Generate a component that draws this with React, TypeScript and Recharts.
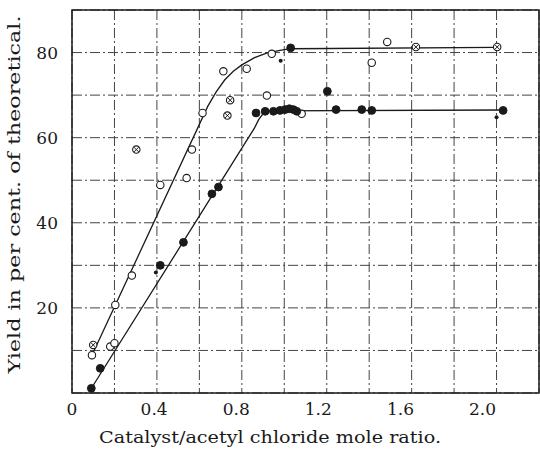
import { ComposedChart, Line, Scatter, XAxis, YAxis, CartesianGrid, ReferenceArea } from "recharts";

// open circles (upper set)
const openPts = [
  [0.094, 8.9], [0.18, 10.9], [0.2, 11.7], [0.204, 20.7], [0.282, 27.6],
  [0.416, 48.9], [0.54, 50.5], [0.565, 57.2], [0.615, 65.8], [0.713, 75.6],
  [0.823, 76.2], [0.918, 69.9], [0.941, 79.7], [1.082, 65.6], [1.412, 77.6],
  [1.485, 82.5],
];

// crossed circles
const crossPts = [
  [0.1, 11.3], [0.303, 57.2], [0.732, 65.2], [0.745, 68.8], [1.62, 81.3], [2.003, 81.3],
];

// filled circles (lower set)
const filledPts = [
  [0.091, 1.1], [0.133, 5.8], [0.416, 30.0], [0.525, 35.4], [0.659, 46.8],
  [0.69, 48.4], [0.867, 65.8], [0.91, 66.2], [0.949, 66.2], [0.98, 66.4],
  [1.004, 66.6], [1.024, 66.8], [1.043, 66.6], [1.059, 66.2], [1.03, 81.1],
  [1.203, 70.9], [1.244, 66.6], [1.365, 66.6], [1.412, 66.4], [2.031, 66.4],
];

// small dots
const dotPts = [[0.395, 28.3], [0.983, 78.1], [2.0, 64.8]];

// drawn curves
const upperCurve = [
  [0.1, 9.5], [0.64, 67.4], [0.68, 70.8], [0.72, 73.6], [0.76, 75.6], [0.8, 77.1],
  [0.86, 78.8], [0.92, 79.9], [0.98, 80.5], [1.03, 80.9], [2.0, 81.2],
];
const lowerCurve = [
  [0.09, 1.0], [0.86, 62.3], [0.88, 64.3], [0.9, 65.6], [0.93, 66.3], [2.03, 66.5],
];

const xTicks = [0, 0.2, 0.4, 0.6, 0.8, 1.0, 1.2, 1.4, 1.6, 1.8, 2.0, 2.2];
const xLabels: Record<string, string> = { "0": "0", "0.4": "0.4", "0.8": "0.8", "1.2": "1.2", "1.6": "1.6", "2": "2.0" };
const yTicks = [0, 10, 20, 30, 40, 50, 60, 70, 80, 90];
const yLabels = [20, 40, 60, 80];

const toXY = (a: number[][]) => a.map(([x, y]) => ({ x, y }));

const INK = "#1a1a1a";
const FONT = "'DejaVu Serif', serif";

const OpenDot = (p: any) => (
  <circle cx={p.cx} cy={p.cy} r={3.7} fill="#fff" stroke={INK} strokeWidth={1.1} />
);
const FilledDot = (p: any) => (
  <circle cx={p.cx} cy={p.cy} r={3.9} fill={INK} stroke={INK} strokeWidth={1} />
);
const SmallDot = (p: any) => (
  <circle cx={p.cx} cy={p.cy} r={2} fill={INK} />
);
const CrossDot = (p: any) => (
  <g>
    <circle cx={p.cx} cy={p.cy} r={3.7} fill="#fff" stroke={INK} strokeWidth={1.1} />
    <path
      d={`M${p.cx - 2.4},${p.cy - 2.4}L${p.cx + 2.4},${p.cy + 2.4}M${p.cx - 2.4},${p.cy + 2.4}L${p.cx + 2.4},${p.cy - 2.4}`}
      stroke={INK}
      strokeWidth={1}
    />
  </g>
);

// the printed tick numbers sit a little left of their grid lines
const XTick = (p: any) => {
  const v = p.payload.value;
  const txt = xLabels[String(Math.round(v * 10) / 10)];
  if (!txt) return null;
  return (
    <text x={p.x - 7 * v} y={p.y} dy={12} textAnchor="middle" fill={INK} fontSize={17} fontFamily={FONT}>
      {txt}
    </text>
  );
};

const XTitle = (p: any) => {
  const vb = p.viewBox;
  return (
    <text x={vb.x + 198} y={vb.y + vb.height - 8} textAnchor="middle" fill={INK} fontSize={17} fontFamily={FONT} textLength={342} lengthAdjust="spacingAndGlyphs">
      Catalyst/acetyl chloride mole ratio.
    </text>
  );
};

const YTitle = (p: any) => {
  const vb = p.viewBox;
  const cx = vb.x + 14;
  const cy = vb.y + vb.height / 2 - 7;
  return (
    <text x={cx} y={cy} transform={`rotate(-90, ${cx}, ${cy})`} textAnchor="middle" dominantBaseline="central" fill={INK} fontSize={17} fontFamily={FONT} textLength={358} lengthAdjust="spacingAndGlyphs">
      Yield in per cent. of theoretical.
    </text>
  );
};

export default function App() {
  return (
    <div style={{ position: "absolute", left: 0, top: 0, background: "#fff" }}>
      <ComposedChart width={540} height={451} margin={{ top: 10, right: 1, bottom: 0, left: 0 }}>
        <CartesianGrid stroke="#444" strokeWidth={1} strokeDasharray="10 3 2 3" />
        <XAxis
          type="number"
          dataKey="x"
          domain={[0, 2.2]}
          ticks={xTicks}
          interval={0}
          axisLine={false}
          tickLine={false}
          tickMargin={4}
          height={58}
          tick={<XTick />}
          label={{ content: <XTitle /> }}
        />
        <YAxis
          type="number"
          dataKey="y"
          domain={[0, 90]}
          ticks={yTicks}
          interval={0}
          axisLine={false}
          tickLine={false}
          tickMargin={8}
          width={72}
          tickFormatter={(v: number) => (yLabels.includes(v) ? String(v) : "")}
          tick={{ fill: INK, fontSize: 17, fontFamily: FONT }}
          label={{ content: <YTitle /> }}
        />
        <ReferenceArea x1={0} x2={2.2} y1={0} y2={90} fill="none" stroke={INK} strokeWidth={1.5} ifOverflow="visible" />
        <Line data={toXY(upperCurve)} dataKey="y" type="linear" stroke={INK} strokeWidth={1.3} dot={false} isAnimationActive={false} />
        <Line data={toXY(lowerCurve)} dataKey="y" type="linear" stroke={INK} strokeWidth={1.3} dot={false} isAnimationActive={false} />
        <Scatter data={toXY(openPts)} shape={OpenDot} isAnimationActive={false} />
        <Scatter data={toXY(crossPts)} shape={CrossDot} isAnimationActive={false} />
        <Scatter data={toXY(filledPts)} shape={FilledDot} isAnimationActive={false} />
        <Scatter data={toXY(dotPts)} shape={SmallDot} isAnimationActive={false} />
      </ComposedChart>
    </div>
  );
}
